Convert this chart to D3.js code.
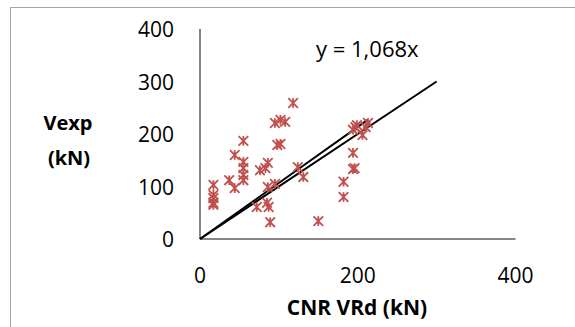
<!DOCTYPE html>
<html>
<head>
<meta charset="utf-8">
<script src="https://cdn.jsdelivr.net/npm/d3@7"></script>
<style>
  body { margin: 0; background: #fff; }
  svg { display: block; font-family: "Open Sans", sans-serif; }
</style>
</head>
<body>
<svg id="chart" width="575" height="327"></svg>
<script>
const width = 575;
const height = 327;

const vrd = [17, 17, 17, 17, 17, 37, 44, 44, 55, 55, 55, 55, 55,
    76, 83, 86, 86, 72, 85, 87, 89, 95, 98, 102, 95, 102, 108, 118,
    124, 131, 150, 194, 197, 199, 206, 210, 213, 194, 194, 196, 182, 182];
const vexp = [103, 84, 78, 69, 65, 112, 97, 160, 187, 147, 135, 122, 112,
    131, 135, 145, 99, 61, 69, 61, 32, 105, 179, 181, 221, 227, 223, 259,
    137, 118, 34, 208, 213, 217, 198, 213, 221, 164, 133, 135, 109, 80];

const xTicks = [0, 200, 400];
const yTicks = [0, 100, 200, 300, 400];
const slope = 1.068;
const xMaxData = d3.max(vrd);

const svg = d3.select("#chart");

// outer chart border (runs off the page on right and bottom)
svg.append("rect")
    .attr("x", 10.5)
    .attr("y", 7.5)
    .attr("width", 600)
    .attr("height", 400)
    .attr("fill", "none")
    .attr("stroke", "#a6a6a6")
    .attr("stroke-width", 1);

const xScale = d3.scaleLinear().domain([0, 400]).range([200, 515.5]);
const yScale = d3.scaleLinear().domain([0, 400]).range([239, 29]);

// axes
svg.append("line")
    .attr("x1", xScale(0)).attr("x2", xScale(400))
    .attr("y1", yScale(0)).attr("y2", yScale(0))
    .attr("stroke", "#868686").attr("stroke-width", 2);
svg.append("line")
    .attr("x1", xScale(0)).attr("x2", xScale(0))
    .attr("y1", yScale(0)).attr("y2", yScale(400))
    .attr("stroke", "#868686").attr("stroke-width", 2);

// tick labels
svg.selectAll(".xtick")
    .data(xTicks)
    .join("text")
    .attr("class", "xtick")
    .attr("x", d => xScale(d))
    .attr("y", 283)
    .attr("text-anchor", "middle")
    .attr("font-size", "21px")
    .attr("fill", "#000")
    .text(d => d);

svg.selectAll(".ytick")
    .data(yTicks)
    .join("text")
    .attr("class", "ytick")
    .attr("x", 174)
    .attr("y", d => yScale(d) + 8)
    .attr("text-anchor", "end")
    .attr("font-size", "21px")
    .attr("fill", "#000")
    .text(d => d);

// axis titles
svg.append("text")
    .attr("x", 357)
    .attr("y", 315)
    .attr("text-anchor", "middle")
    .attr("font-size", "21px")
    .attr("font-weight", "bold")
    .text("CNR VRd (kN)");

svg.append("text")
    .attr("x", 68)
    .attr("y", 130)
    .attr("text-anchor", "middle")
    .attr("font-size", "20px")
    .attr("font-weight", "bold")
    .text("Vexp");
svg.append("text")
    .attr("x", 69)
    .attr("y", 165)
    .attr("text-anchor", "middle")
    .attr("font-size", "20px")
    .attr("font-weight", "bold")
    .text("(kN)");

// y = x reference line
svg.append("line")
    .attr("x1", xScale(0)).attr("y1", yScale(0))
    .attr("x2", xScale(300)).attr("y2", yScale(300))
    .attr("stroke", "#000").attr("stroke-width", 2);

// linear trendline through origin
svg.append("line")
    .attr("x1", xScale(0)).attr("y1", yScale(0))
    .attr("x2", xScale(xMaxData)).attr("y2", yScale(slope * xMaxData))
    .attr("stroke", "#000").attr("stroke-width", 2);

// star markers
const s = 4.8;
const star = `M${-s},${-s}L${s},${s}M${-s},${s}L${s},${-s}M0,${-s}L0,${s}`;
svg.selectAll(".pt")
    .data(vrd.map((d, i) => [d, vexp[i]]))
    .join("path")
    .attr("class", "pt")
    .attr("transform", d => `translate(${xScale(d[0])},${yScale(d[1])})`)
    .attr("d", star)
    .attr("fill", "none")
    .attr("stroke", "#c0504d")
    .attr("stroke-width", 1.8);

// equation label
svg.append("text")
    .attr("x", 316)
    .attr("y", 57)
    .attr("font-size", "22px")
    .attr("fill", "#000")
    .text("y = 1,068x");
</script>
</body>
</html>
